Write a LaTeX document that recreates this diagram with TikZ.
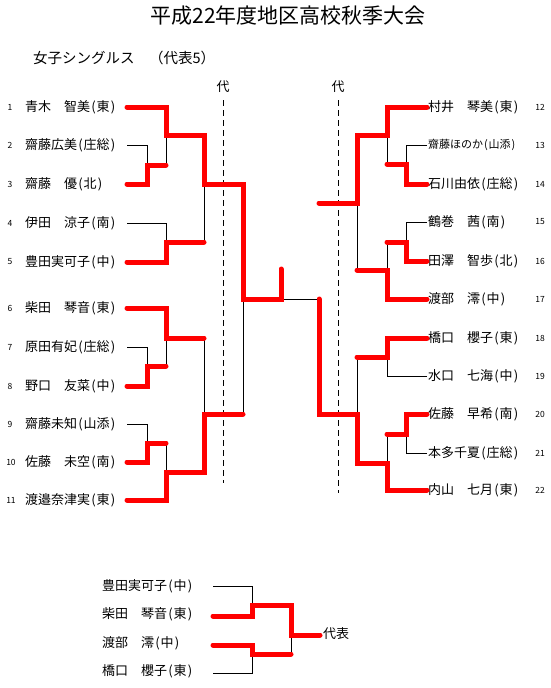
\documentclass[tikz,border=0pt]{standalone}
\usepackage{fontspec}
\setmainfont{Noto Sans CJK JP}
\newcommand\kakko[1]{\makebox[0.5em][c]{(}#1\makebox[0.5em][c]{)}}
\begin{document}
\begin{tikzpicture}[x=1pt,y=-1pt,
  win/.style={draw=red, line width=5pt, line cap=round, line join=miter},
  lose/.style={draw=black, line width=0.8pt},
  dai/.style={draw=black, line width=0.8pt, dash pattern=on 6pt off 4pt},
  nm/.style={anchor=west, inner sep=0pt, font=\fontsize{13}{15}\selectfont},
  nms/.style={anchor=west, inner sep=0pt, font=\fontsize{11}{13}\selectfont},
  num/.style={inner sep=0pt, font=\fontsize{8.5}{10}\selectfont}]
\useasboundingbox (0,0) rectangle (551,688);
\fill[white] (0,0) rectangle (551,688);

% titles
\node[inner sep=0pt, font=\fontsize{21}{24}\selectfont] (title) at (288,16) {平成22年度地区高校秋季大会};
\node[anchor=west, inner sep=0pt, font=\fontsize{14.5}{17}\selectfont] (sub) at (33,58) {女子シングルス　（代表5）};
\node[inner sep=0pt, font=\fontsize{13}{15}\selectfont] (dL) at (223,87) {代};
\node[inner sep=0pt, font=\fontsize{13}{15}\selectfont] (dR) at (338,87) {代};
\coordinate (dLt) at (223,100); \coordinate (dLb) at (223,483);
\coordinate (dRt) at (338,100); \coordinate (dRb) at (338,493);
\draw[dai] (dLt) -- (dLb);
\draw[dai] (dRt) -- (dRb);

% left names
\node[num] (k1) at (10,107) {1};   \node[nm] (n1) at (25,107) {青木　智美\kakko{東}};
\node[num] (k2) at (10,145) {2};   \node[nm] (n2) at (25,145) {齋藤広美\kakko{庄総}};
\node[num] (k3) at (10,184) {3};   \node[nm] (n3) at (25,184) {齋藤　優\kakko{北}};
\node[num] (k4) at (10,223) {4};   \node[nm] (n4) at (25,223) {伊田　涼子\kakko{南}};
\node[num] (k5) at (10,262) {5};   \node[nm] (n5) at (25,262) {豊田実可子\kakko{中}};
\node[num] (k6) at (10,308) {6};   \node[nm] (n6) at (25,308) {柴田　琴音\kakko{東}};
\node[num] (k7) at (10,347) {7};   \node[nm] (n7) at (25,347) {原田有妃\kakko{庄総}};
\node[num] (k8) at (10,386) {8};   \node[nm] (n8) at (25,386) {野口　友菜\kakko{中}};
\node[num] (k9) at (10,424) {9};   \node[nm] (n9) at (25,424) {齋藤未知\kakko{山添}};
\node[num] (k10) at (11,462) {10}; \node[nm] (n10) at (25,462) {佐藤　未空\kakko{南}};
\node[num] (k11) at (11,500) {11}; \node[nm] (n11) at (25,500) {渡邉奈津実\kakko{東}};

% right names
\node[nm] (n12) at (428,107) {村井　琴美\kakko{東}};   \node[num] (k12) at (540,107) {12};
\node[nms] (n13) at (428,145) {齋藤ほのか\kakko{山添}}; \node[num] (k13) at (540,145) {13};
\node[nm] (n14) at (428,184) {石川由依\kakko{庄総}};   \node[num] (k14) at (540,184) {14};
\node[nm] (n15) at (428,222) {鶴巻　茜\kakko{南}};     \node[num] (k15) at (540,222) {15};
\node[nm] (n16) at (428,261) {田澤　智歩\kakko{北}};   \node[num] (k16) at (540,261) {16};
\node[nm] (n17) at (428,299) {渡部　澪\kakko{中}};     \node[num] (k17) at (540,299) {17};
\node[nm] (n18) at (428,338) {橋口　櫻子\kakko{東}};   \node[num] (k18) at (540,338) {18};
\node[nm] (n19) at (428,376) {水口　七海\kakko{中}};   \node[num] (k19) at (540,376) {19};
\node[nm] (n20) at (428,414) {佐藤　早希\kakko{南}};   \node[num] (k20) at (540,414) {20};
\node[nm] (n21) at (428,453) {本多千夏\kakko{庄総}};   \node[num] (k21) at (540,453) {21};
\node[nm] (n22) at (428,490) {内山　七月\kakko{東}};   \node[num] (k22) at (540,490) {22};

% line start coordinates
\foreach \i/\y in {1/107,2/145,3/184,4/223,5/262,6/308,7/347,8/386,9/424,10/462,11/500}
  \coordinate (e\i) at (127,\y);
\foreach \i/\y in {12/107,13/145,14/184,15/222,16/261,17/299,18/338,19/376,20/414,21/453,22/490}
  \coordinate (e\i) at (427,\y);

% ---------- left thin lines ----------
\draw[lose] (e2) -- (147,145) -- (147,165);
\draw[lose] (166,165) -- (166,135);
\draw[lose] (e4) -- (166,223) -- (166,242);
\draw[lose] (204,242) -- (204,184);
\draw[lose] (e7) -- (147,347) -- (147,366);
\draw[lose] (166,366) -- (166,338);
\draw[lose] (e9) -- (147,424) -- (147,443);
\draw[lose] (166,443) -- (166,472);
\draw[lose] (204,338) -- (204,414);
\draw[lose] (243,299) -- (243,414);
% ---------- right thin lines ----------
\draw[lose] (e13) -- (406,145) -- (406,164);
\draw[lose] (387,164) -- (387,135);
\draw[lose] (e15) -- (406,222) -- (406,242);
\draw[lose] (387,242) -- (387,270);
\draw[lose] (357,270) -- (357,203);
\draw[lose] (e19) -- (387,376) -- (387,357);
\draw[lose] (e21) -- (406,453) -- (406,434);
\draw[lose] (387,434) -- (387,463);
\draw[lose] (357,357) -- (357,414);
\draw[lose] (319,299) -- (281,299);

% ---------- left red lines ----------
\draw[win] (e3) -- (147,184) -- (147,165) -- (166,165);
\draw[win] (e1) -- (166,107) -- (166,135) -- (204,135) -- (204,184) -- (243,184) -- (243,299) -- (281,299) -- (281,269);
\draw[win] (e5) -- (166,262) -- (166,242) -- (204,242);
\draw[win] (e8) -- (147,386) -- (147,366) -- (166,366);
\draw[win] (e6) -- (166,308) -- (166,338) -- (204,338);
\draw[win] (e10) -- (147,462) -- (147,443) -- (166,443);
\draw[win] (e11) -- (166,500) -- (166,472) -- (204,472) -- (204,414) -- (243,414);
% ---------- right red lines ----------
\draw[win] (e14) -- (406,184) -- (406,164) -- (387,164);
\draw[win] (e12) -- (387,107) -- (387,135) -- (357,135) -- (357,203) -- (319,203);
\draw[win] (e16) -- (406,261) -- (406,242) -- (387,242);
\draw[win] (e17) -- (387,299) -- (387,270) -- (357,270);
\draw[win] (e18) -- (387,338) -- (387,357) -- (357,357);
\draw[win] (e20) -- (406,414) -- (406,434) -- (387,434);
\draw[win] (e22) -- (387,490) -- (387,463) -- (357,463) -- (357,414) -- (319,414) -- (319,299);

% ---------- playoff for the fifth place ----------
\node[nm] (b1) at (102,586) {豊田実可子\kakko{中}};
\node[nm] (b2) at (102,614) {柴田　琴音\kakko{東}};
\node[nm] (b3) at (102,643) {渡部　澪\kakko{中}};
\node[nm] (b4) at (102,671) {橋口　櫻子\kakko{東}};
\node[nm] (rep) at (323,634) {代表};
\coordinate (f1) at (213,586);
\coordinate (f2) at (213,616);
\coordinate (f3) at (213,645);
\coordinate (f4) at (213,673);
\coordinate (fr) at (320,635);
\draw[lose] (f1) -- (252,586) -- (252,605);
\draw[lose] (f4) -- (252,673) -- (252,654);
\draw[lose] (291,654) -- (291,635);
\draw[win] (f2) -- (252,616) -- (252,605) -- (291,605) -- (291,635) -- (fr);
\draw[win] (f3) -- (252,645) -- (252,654) -- (291,654);
\end{tikzpicture}
\end{document}
